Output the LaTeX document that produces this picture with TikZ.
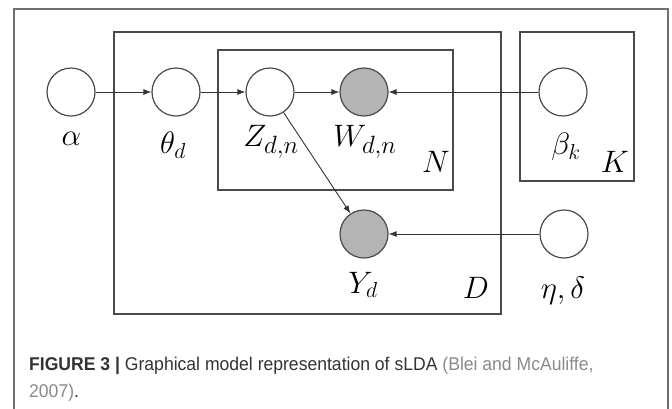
\documentclass[tikz,border=0pt]{standalone}
\usepackage{fix-cm}
\usepackage{fontspec}
\newfontfamily\capfont{Liberation Sans}[FakeStretch=0.95]
\usetikzlibrary{arrows.meta}
\definecolor{ln}{HTML}{4A4A4A}
\definecolor{obs}{HTML}{B4B4B4}
\definecolor{frm}{HTML}{707070}
\definecolor{captxt}{HTML}{333333}
\definecolor{caplink}{HTML}{8A8A8A}
\newcommand\bigsubx[1]{\mbox{\fontsize{25}{25}\selectfont$#1$}}
\tikzset{
  var/.style={circle,draw=ln,line width=1.2pt,minimum size=48pt,inner sep=0pt,fill=white},
  obsvar/.style={var,fill=obs},
  plate/.style={draw=ln,line width=1.1pt},
  lab/.style={inner sep=0pt,font=\fontsize{31}{36}\selectfont},
  edge/.style={draw=black!80,line width=0.9pt,-{Latex[length=8pt,width=6pt]}},
  captext/.style={inner sep=0pt,anchor=base west,font=\capfont\fontsize{18.5}{22}\selectfont,text=captxt}
}
\begin{document}
\begin{tikzpicture}[x=1pt,y=-1pt]
\useasboundingbox (0,0) rectangle (672,408);
\fill[white] (0,0) rectangle (672,408);
\begin{scope}
\clip (0,0) rectangle (672,408);
\draw[frm,line width=1.3pt] (14,9) rectangle (668,430);
\end{scope}
% plates
\draw[plate] (114,32) rectangle (501,314);
\draw[plate] (218,50) rectangle (453,190);
\draw[plate] (520,32) rectangle (634,181);
% nodes
\node[var] (alpha) at (71,92) {};
\node[var] (theta) at (176,92) {};
\node[var] (z) at (270,92) {};
\node[obsvar] (w) at (364,92) {};
\node[var] (beta) at (563,92) {};
\node[obsvar] (y) at (364,234) {};
\node[var] (eta) at (564,234) {};
% labels
\node[lab] (lalpha) at (71.5,138.5) {$\alpha$};
\node[lab] (ltheta) at (173,145) {$\theta_d$};
\node[lab] (lz) at (271,142) {$Z_{\bigsubx{d{,}n}}$};
\node[lab] (lw) at (365,142) {$W_{\bigsubx{d{,}n}}$};
\node[lab] (lN) at (436,162) {$N$};
\node[lab] (lbeta) at (566,147) {$\beta_k$};
\node[lab] (lK) at (615,162) {$K$};
\node[lab] (ly) at (363,285) {$Y_d$};
\node[lab] (lD) at (476,288) {$D$};
\node[lab] (leta) at (563,291) {$\eta,\delta$};
% edges
\draw[edge] (alpha) -- (theta);
\draw[edge] (theta) -- (z);
\draw[edge] (z) -- (w);
\draw[edge] (beta) -- (w);
\draw[edge] (z) -- (y);
\draw[edge] (eta) -- (y);
% caption
\node[captext] (c1) at (29,370) {\textbf{FIGURE 3 |} Graphical model representation of sLDA {\color{caplink}(Blei and McAuliffe,}};
\node[captext] (c2) at (29,397) {{\color{caplink}2007)}.};
\end{tikzpicture}
\end{document}
